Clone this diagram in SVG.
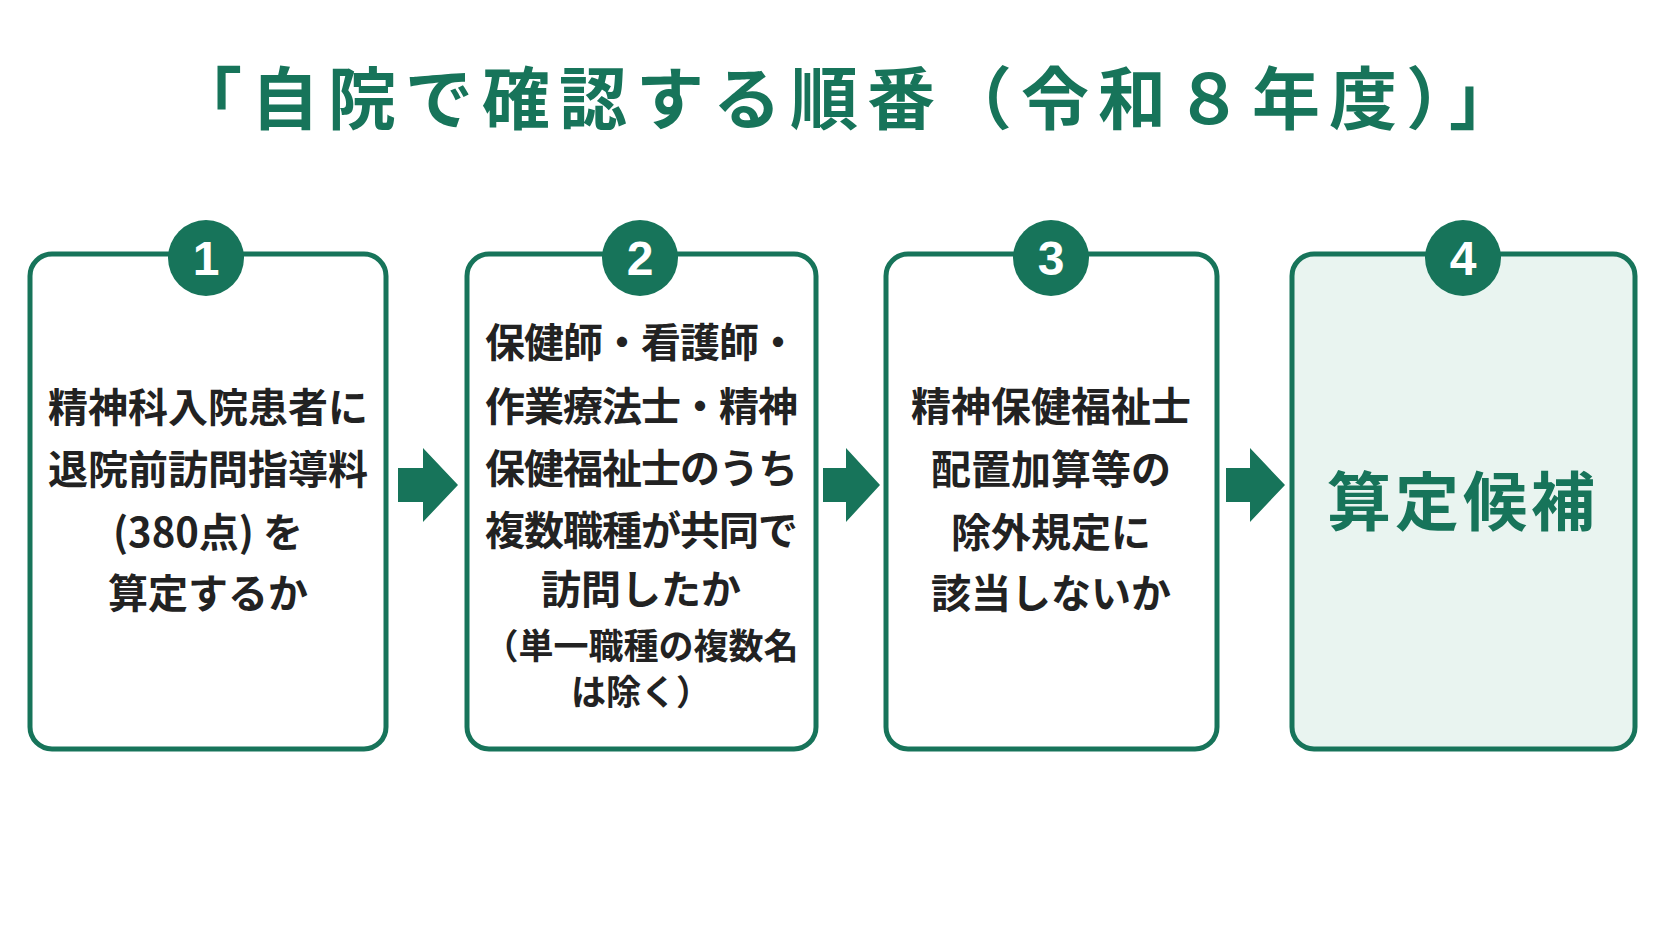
<svg xmlns="http://www.w3.org/2000/svg" width="1672" height="941" viewBox="0 0 1672 941">
<style>
.box{fill:#fff;stroke:#17745a;stroke-width:5}
.c{fill:#17745a}
.n{font-family:"Liberation Sans",sans-serif;font-weight:bold;font-size:48px;fill:#fff;text-anchor:middle}
.t{font-family:"Noto Sans CJK JP",sans-serif;font-weight:bold;font-size:40px;fill:#222;text-anchor:middle}
.s{font-size:35px}
.ar{fill:#17745a}
</style>
<rect width="1672" height="941" fill="#fff"/>
<text x="850" y="124" font-family="Noto Sans CJK JP,sans-serif" font-weight="bold" font-size="68" fill="#17745a" text-anchor="middle" letter-spacing="9">「自院で確認する順番（令和８年度）」</text>
<g id="connectors">
<polygon class="ar" points="398,468 423,468 423,448 458,485 423,522 423,502 398,502"/>
<polygon class="ar" points="823,468 846,468 846,448 880,485 846,522 846,502 823,502"/>
<polygon class="ar" points="1226,468 1250,468 1250,448 1285,485 1250,522 1250,502 1226,502"/>
</g>
<g id="n1">
<rect class="box" x="30" y="254" width="356" height="495" rx="22"/>
<circle class="c" cx="206" cy="258" r="38"/><text class="n" x="206" y="275">1</text>
<text class="t" x="208" y="422">精神科入院患者に</text>
<text class="t" x="208" y="484">退院前訪問指導料</text>
<text class="t" x="208" y="547">(380点) を</text>
<text class="t" x="208" y="608">算定するか</text>
</g>
<g id="n2">
<rect class="box" x="467" y="254" width="349" height="495" rx="22"/>
<circle class="c" cx="640" cy="258" r="38"/><text class="n" x="640" y="275">2</text>
<text class="t" x="641" y="357" letter-spacing="-1">保健師・看護師・</text>
<text class="t" x="641" y="421" letter-spacing="-1">作業療法士・精神</text>
<text class="t" x="641" y="483" letter-spacing="-1">保健福祉士のうち</text>
<text class="t" x="641" y="545" letter-spacing="-1">複数職種が共同で</text>
<text class="t" x="641" y="604">訪問したか</text>
<text class="t s" x="641" y="659">（単一職種の複数名</text>
<text class="t s" x="641" y="705">は除く）</text>
</g>
<g id="n3">
<rect class="box" x="886" y="254" width="331" height="495" rx="22"/>
<circle class="c" cx="1051" cy="258" r="38"/><text class="n" x="1051" y="275">3</text>
<text class="t" x="1051" y="421">精神保健福祉士</text>
<text class="t" x="1051" y="484">配置加算等の</text>
<text class="t" x="1051" y="547">除外規定に</text>
<text class="t" x="1051" y="608">該当しないか</text>
</g>
<g id="n4">
<rect class="box" x="1292" y="254" width="343" height="495" rx="22" style="fill:#e9f4f0"/>
<circle class="c" cx="1463" cy="258" r="38"/><text class="n" x="1463" y="275">4</text>
<text x="1463" y="525" font-family="Noto Sans CJK JP,sans-serif" font-weight="bold" font-size="64" fill="#17745a" text-anchor="middle" letter-spacing="4">算定候補</text>
</g>
</svg>
